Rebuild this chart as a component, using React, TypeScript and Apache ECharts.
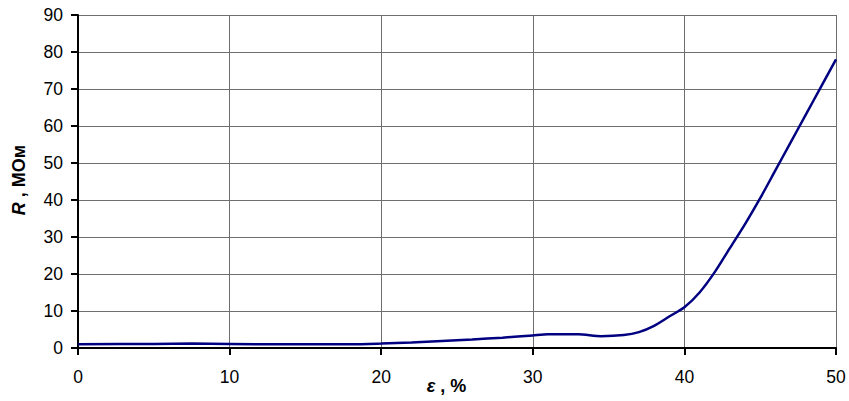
import React, { useEffect, useRef } from "react";
import * as echarts from "echarts";

const strainPct = [0, 5, 7.5, 12.5, 18, 20, 22, 24, 26, 28, 30, 31, 33, 34.5, 36, 37, 38, 39, 40, 41, 42, 43, 44, 45, 46, 47, 48, 49, 50];
const resistanceMOhm = [1.0, 1.1, 1.2, 1.0, 1.0, 1.2, 1.5, 1.9, 2.3, 2.8, 3.4, 3.7, 3.7, 3.2, 3.5, 4.3, 6.0, 8.5, 11, 15, 20.5, 27, 33.5, 40.5, 48, 55.5, 63, 70.5, 78];

export default function App() {
  const ref = useRef<HTMLDivElement>(null);
  useEffect(() => {
    document.body.style.margin = "0";
    if (!ref.current) return;
    const chart = echarts.init(ref.current, null, { renderer: "svg" });
    const font = "'Liberation Sans', Arial, sans-serif";
    chart.setOption({
      animation: false,
      backgroundColor: "#ffffff",
      grid: { left: 78, right: 13, top: 15, bottom: 53, containLabel: false, outerBoundsMode: "none" },
      xAxis: {
        type: "value",
        min: 0,
        max: 50,
        interval: 10,
        name: "{i|ε}{b| , %}",
        nameLocation: "middle",
        nameGap: 29,
        nameMoveOverlap: false,
        nameTextStyle: {
          padding: [0, 21, 0, 0],
          rich: {
            i: { fontFamily: font, fontSize: 18, fontWeight: "bold", fontStyle: "italic", color: "#000" },
            b: { fontFamily: font, fontSize: 18, fontWeight: "bold", color: "#000" },
          },
        },
        axisLine: { show: true, onZero: false, lineStyle: { color: "#000", width: 2 } },
        axisTick: { show: true, length: 7, inside: false, lineStyle: { color: "#000", width: 2 } },
        axisLabel: { color: "#000", fontFamily: font, fontSize: 17.5, margin: 20 },
        splitLine: { show: true, lineStyle: { color: "#6e6e6e", width: 1 } },
      },
      yAxis: {
        type: "value",
        min: 0,
        max: 90,
        interval: 10,
        name: "{i|R}{b| , МОм}",
        nameLocation: "middle",
        nameGap: 50,
        nameRotate: 90,
        nameMoveOverlap: false,
        nameTextStyle: {
          padding: [0, 0, 0, 3],
          rich: {
            i: { fontFamily: font, fontSize: 18, fontWeight: "bold", fontStyle: "italic", color: "#000" },
            b: { fontFamily: font, fontSize: 18, fontWeight: "bold", color: "#000" },
          },
        },
        axisLine: { show: true, lineStyle: { color: "#000", width: 2 } },
        axisTick: { show: true, length: 7, inside: false, lineStyle: { color: "#000", width: 2 } },
        axisLabel: { color: "#000", fontFamily: font, fontSize: 17.5, margin: 15 },
        splitLine: { show: true, lineStyle: { color: "#6e6e6e", width: 1 } },
      },
      series: [
        {
          type: "line",
          data: strainPct.map((x, i) => [x, resistanceMOhm[i]]),
          smooth: 0.25,
          showSymbol: false,
          symbol: "none",
          lineStyle: { color: "#000080", width: 2.5 },
          z: 3,
        },
      ],
    });
    return () => chart.dispose();
  }, []);
  return <div ref={ref} style={{ width: 849, height: 401 }} />;
}
